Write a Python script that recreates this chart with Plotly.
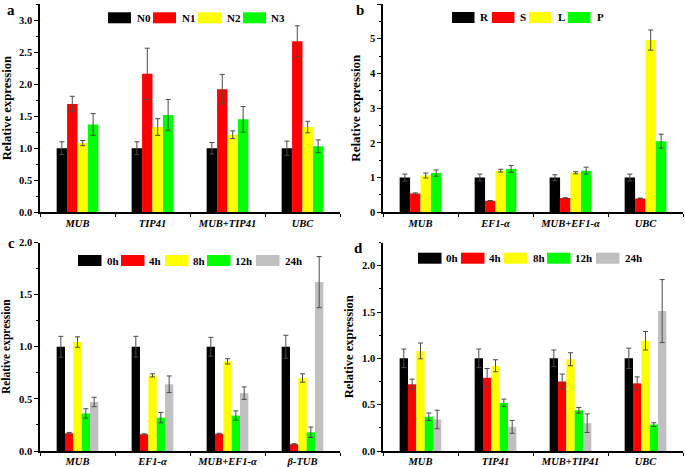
import plotly.graph_objects as go

# ---------------- data ----------------
genes_a = ["MUB", "TIP41", "MUB+TIP41", "UBC"]
a_N0 = [1.00, 1.00, 1.00, 1.00]
a_N0_err = [0.10, 0.10, 0.09, 0.11]
a_N1 = [1.69, 2.16, 1.92, 2.67]
a_N1_err = [0.12, 0.40, 0.23, 0.24]
a_N2 = [1.08, 1.33, 1.21, 1.33]
a_N2_err = [0.04, 0.13, 0.06, 0.09]
a_N3 = [1.37, 1.52, 1.45, 1.03]
a_N3_err = [0.17, 0.24, 0.20, 0.10]

genes_b = ["MUB", "EF1-α", "MUB+EF1-α", "UBC"]
b_R = [1.00, 1.00, 1.00, 1.00]
b_R_err = [0.10, 0.10, 0.08, 0.10]
b_S = [0.54, 0.33, 0.41, 0.40]
b_S_err = [0.02, 0.01, 0.01, 0.01]
b_L = [1.06, 1.20, 1.14, 4.96]
b_L_err = [0.07, 0.04, 0.03, 0.29]
b_P = [1.13, 1.25, 1.20, 2.05]
b_P_err = [0.09, 0.10, 0.10, 0.20]

genes_c = ["MUB", "EF1-α", "MUB+EF1-α", "β-TUB"]
c_0h = [1.00, 1.00, 1.00, 1.00]
c_0h_err = [0.10, 0.10, 0.09, 0.11]
c_4h = [0.17, 0.16, 0.165, 0.065]
c_4h_err = [0.008, 0.005, 0.005, 0.005]
c_8h = [1.045, 0.725, 0.86, 0.70]
c_8h_err = [0.05, 0.015, 0.025, 0.04]
c_12h = [0.36, 0.32, 0.34, 0.18]
c_12h_err = [0.045, 0.05, 0.045, 0.05]
c_24h = [0.47, 0.64, 0.555, 1.62]
c_24h_err = [0.045, 0.08, 0.06, 0.245]

genes_d = ["MUB", "TIP41", "MUB+TIP41", "UBC"]
d_0h = [1.00, 1.00, 1.00, 1.00]
d_0h_err = [0.10, 0.10, 0.09, 0.11]
d_4h = [0.72, 0.79, 0.75, 0.73]
d_4h_err = [0.055, 0.10, 0.08, 0.07]
d_8h = [1.08, 0.92, 0.99, 1.19]
d_8h_err = [0.085, 0.065, 0.07, 0.10]
d_12h = [0.37, 0.52, 0.44, 0.285]
d_12h_err = [0.04, 0.04, 0.03, 0.02]
d_24h = [0.34, 0.26, 0.30, 1.51]
d_24h_err = [0.10, 0.07, 0.10, 0.34]

names_a = ["N0", "N1", "N2", "N3"]
names_b = ["R", "S", "L", "P"]
names_cd = ["0h", "4h", "8h", "12h", "24h"]

# ---------------- style ----------------
COLORS = ["#000000", "#FF0000", "#FFFF00", "#00FF00", "#C0C0C0"]
FONT = "Liberation Serif, Times New Roman, serif"
W, H = 685, 467

fig = go.Figure()

panels = [
    (genes_a, names_a, [a_N0, a_N1, a_N2, a_N3], [a_N0_err, a_N1_err, a_N2_err, a_N3_err], "x", "y"),
    (genes_b, names_b, [b_R, b_S, b_L, b_P], [b_R_err, b_S_err, b_L_err, b_P_err], "x2", "y2"),
    (genes_c, names_cd, [c_0h, c_4h, c_8h, c_12h, c_24h], [c_0h_err, c_4h_err, c_8h_err, c_12h_err, c_24h_err], "x3", "y3"),
    (genes_d, names_cd, [d_0h, d_4h, d_8h, d_12h, d_24h], [d_0h_err, d_4h_err, d_8h_err, d_12h_err, d_24h_err], "x4", "y4"),
]

for genes, names, vals, errs, xa, ya in panels:
    for i, (nm, v, e) in enumerate(zip(names, vals, errs)):
        fig.add_trace(go.Bar(
            x=genes, y=v, name=nm, showlegend=False,
            marker=dict(color=COLORS[i], line=dict(width=0)),
            error_y=dict(type="data", array=e, visible=True,
                         color="#4a4a4a", thickness=1, width=2.5),
            xaxis=xa, yaxis=ya,
        ))


def px_x(p):
    return p / W


def px_y(p):
    return (H - p) / H


dom_x_left = [px_x(40), px_x(340)]
dom_x_right = [px_x(383), px_x(683)]
dom_y_top = [px_y(212.3), px_y(4)]
dom_y_bot = [px_y(451), px_y(242.5)]


def xaxis(domain, anchor):
    return dict(
        domain=domain, anchor=anchor, type="category", range=[-0.5, 3.5],
        showline=True, linecolor="black", linewidth=1.5,
        ticks="outside", tickson="boundaries", ticklen=3, tickwidth=1.2, tickcolor="black",
        showgrid=False, zeroline=False,
        tickfont=dict(family=FONT, size=10.5, color="black", weight="bold", style="italic"),
    )


def yaxis(domain, anchor, rng, dtick, fmt, tsize):
    return dict(
        domain=domain, anchor=anchor, range=rng, dtick=dtick, tickformat=fmt,
        showline=True, linecolor="black", linewidth=1.5,
        ticks="outside", ticklen=4, tickwidth=1.2, tickcolor="black",
        minor=dict(ticks="outside", ticklen=2.5, tickwidth=1, tickcolor="black", dtick=dtick / 2),
        showgrid=False, zeroline=False,
        tickfont=dict(family=FONT, size=10.5, color="black", weight="bold"),
        title=dict(text="Relative expression", standoff=6,
                   font=dict(family=FONT, size=tsize, color="black", weight="bold")),
    )


fig.update_layout(
    width=W, height=H,
    margin=dict(l=0, r=0, t=0, b=0, autoexpand=False),
    paper_bgcolor="white", plot_bgcolor="white",
    barmode="group", bargap=0.444, bargroupgap=0,
    showlegend=False,
    xaxis=xaxis(dom_x_left, "y"),
    yaxis=yaxis(dom_y_top, "x", [0, 3.25], 0.5, ".1f", 12.7),
    xaxis2=xaxis(dom_x_right, "y2"),
    yaxis2=yaxis(dom_y_top, "x2", [0, 6], 1, "d", 13),
    xaxis3=xaxis(dom_x_left, "y3"),
    yaxis3=yaxis(dom_y_bot, "x3", [0, 2.0], 0.5, ".1f", 11.5),
    xaxis4=xaxis(dom_x_right, "y4"),
    yaxis4=yaxis(dom_y_bot, "x4", [0, 2.25], 0.5, ".1f", 12.5),
)

# ---------------- legends (swatch + label per series) ----------------
legend_layout = [
    # names, swatch left edges, label left edges, swatch width, centre y
    (names_a, [108, 153, 198, 243], [134.5, 180, 224.5, 268.5], 23, 17.8),
    (names_b, [452, 492, 529, 568], [478, 517.5, 556, 595], 22.5, 17.5),
    (names_cd, [78, 121, 165, 207, 256], [105, 147, 191, 233, 283], 23.5, 260.5),
    (names_cd, [418, 461, 504, 547, 596], [444, 487, 531, 573, 623], 23.5, 258.2),
]
for names, sx, tx, sw, cy in legend_layout:
    for i, nm in enumerate(names):
        fig.add_shape(type="rect", xref="paper", yref="paper",
                      x0=px_x(sx[i]), x1=px_x(sx[i] + sw),
                      y0=px_y(cy + 5.5), y1=px_y(cy - 5.5),
                      fillcolor=COLORS[i], line=dict(width=0))
        fig.add_annotation(text=nm, x=px_x(tx[i]), y=px_y(cy), xref="paper", yref="paper",
                           showarrow=False, xanchor="left", yanchor="middle",
                           font=dict(family=FONT, size=11, color="black", weight="bold"))

letters = [("a", 11, 10), ("b", 360, 10), ("c", 11, 243), ("d", 358, 248)]
for t, lx, ly in letters:
    fig.add_annotation(text=t, x=px_x(lx), y=px_y(ly), xref="paper", yref="paper",
                       showarrow=False, xanchor="center", yanchor="middle",
                       font=dict(family=FONT, size=15, color="black", weight="bold"))

fig.write_html("out.html", config={"displayModeBar": False},
               post_script="document.body.style.margin='0';document.body.style.padding='0';")
